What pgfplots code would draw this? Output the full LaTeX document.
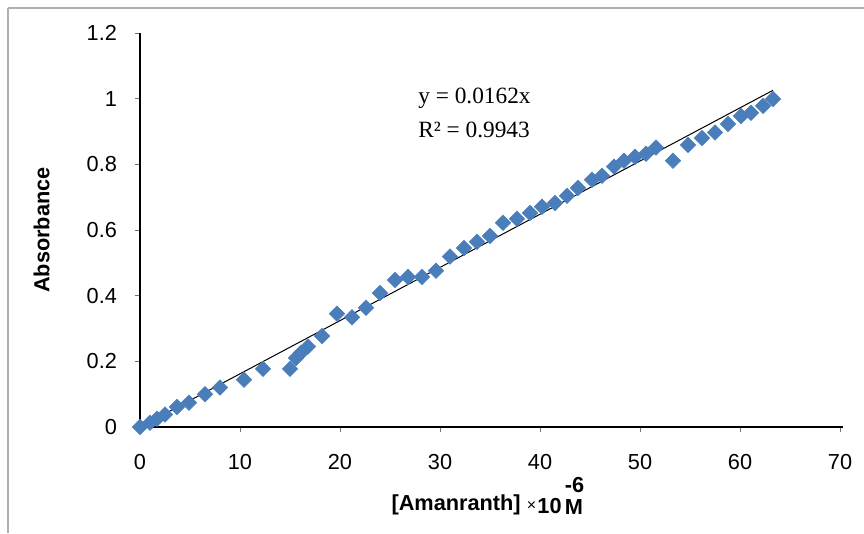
\documentclass[border=0pt]{standalone}
\usepackage{pgfplots}
\pgfplotsset{compat=1.18}
\usepackage{fontspec}
\setmainfont{Liberation Sans}
\newfontfamily\seriffont{Liberation Serif}
\definecolor{mk}{RGB}{74,126,187}
\definecolor{framegray}{RGB}{175,175,175}
\begin{document}
\begin{tikzpicture}
\path[use as bounding box] (0pt,0pt) rectangle (648pt,399.75pt);
\draw[framegray, line width=1.2pt] (6pt,393.75pt) -- (648pt,393.75pt);
\draw[framegray, line width=1.2pt] (6pt,393.75pt) -- (6pt,0pt);
\begin{axis}[
  at={(105pt,79.5pt)}, anchor=south west,
  scale only axis, width=527.25pt, height=295.5pt,
  xmin=0, xmax=70.3, ymin=0, ymax=1.2,
  axis lines=left, axis line style={-, black, line width=1pt},
  xtick={0,10,20,30,40,50,60,70},
  xticklabels={0,10,20,30,40,50,60,\raisebox{5pt}{70}},
  ytick={0,0.2,0.4,0.6,0.8,1,1.2},
  yticklabels={0,0.2,0.4,0.6,0.8,1,1.2},
  tick align=outside, major tick length=3.75pt,
  tick style={black!55, line width=0.6pt},
  ticklabel style={font=\fontsize{16.3}{19}\selectfont},
  xticklabel style={yshift=-13pt},
  yticklabel style={xshift=-10pt},
  clip=false,
  xlabel={\bfseries [Amanranth] {\mdseries\fontsize{12}{14}\selectfont ×}\kern1pt\raisebox{-2pt}{10}\kern2.5pt\rlap{\raisebox{0.85em}{-6}}\raisebox{-3pt}{M}},
  xlabel style={font=\fontsize{16.3}{19}\selectfont, at={(axis description cs:0.494,-0.212)}, anchor=base},
  ylabel={Absorbance},
  ylabel style={font=\bfseries\fontsize{16.3}{19}\selectfont, at={(axis description cs:-0.14,0.5)}, anchor=center},
]
\addplot[only marks, mark=square*, mark size=4.1pt, mark options={rotate=45, fill=mk, draw=mk}] coordinates {
(0.0,0.0) (1.0,0.013) (1.7,0.025) (2.5,0.038) (3.7,0.061) (4.9,0.074)
(6.5,0.10) (8.0,0.12) (10.4,0.144) (12.3,0.177) (15.0,0.177) (15.6,0.21)
(16.1,0.226) (16.8,0.245) (18.2,0.277) (19.7,0.345) (21.2,0.334) (22.6,0.363)
(24.0,0.408) (25.5,0.448) (26.8,0.457) (28.2,0.457) (29.6,0.476) (31.0,0.519)
(32.4,0.545) (33.7,0.564) (35.0,0.582) (36.3,0.622) (37.7,0.634) (39.0,0.652)
(40.2,0.671) (41.5,0.682) (42.7,0.704) (43.8,0.728) (45.2,0.753) (46.2,0.765)
(47.4,0.793) (48.4,0.811) (49.5,0.823) (50.6,0.832) (51.6,0.851) (53.3,0.811)
(54.8,0.859) (56.2,0.880) (57.5,0.897) (58.8,0.923) (60.1,0.947) (61.1,0.957)
(62.3,0.978) (63.3,0.999)
};
\addplot[black, line width=0.75pt] coordinates {(0,0) (63.3,1.0255)};
\node[font=\seriffont\fontsize{17.5}{20}\selectfont, anchor=west, inner sep=0pt] at (axis cs:27.8,1.0) {y = 0.0162x};
\node[font=\seriffont\fontsize{17.5}{20}\selectfont, anchor=west, inner sep=0pt] at (axis cs:27.8,0.906) {R² = 0.9943};
\end{axis}
\end{tikzpicture}
\end{document}
